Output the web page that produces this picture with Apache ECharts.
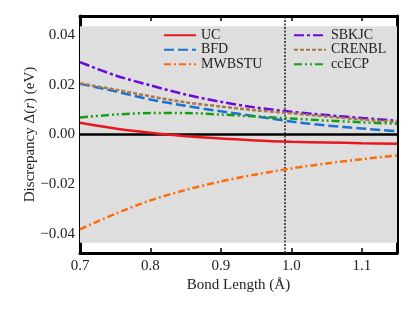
<!DOCTYPE html>
<html><head><meta charset="utf-8">
<script src="https://cdn.jsdelivr.net/npm/echarts@6/dist/echarts.min.js"></script>
<style>html,body{margin:0;padding:0;background:#fff}#c{width:415px;height:311px}</style>
</head><body><div id="c"></div>
<script>
const bondLength = [0.70, 0.75, 0.80, 0.85, 0.90, 0.95, 1.00, 1.05, 1.10, 1.15];
const UC     = [0.0047, 0.0024, 0.0007, -0.0007, -0.0016, -0.0024, -0.0029, -0.0032, -0.0035, -0.0037];
const BFD    = [0.0203, 0.0173, 0.0140, 0.0115, 0.0093, 0.0073, 0.0052, 0.0036, 0.0024, 0.0013];
const MWBSTU = [-0.0380, -0.0318, -0.0264, -0.0222, -0.0188, -0.0160, -0.0136, -0.0116, -0.0099, -0.0084];
const SBKJC  = [0.0290, 0.0237, 0.0197, 0.0160, 0.0131, 0.0108, 0.0091, 0.0078, 0.0066, 0.0055];
const CRENBL = [0.0205, 0.0180, 0.0153, 0.0129, 0.0112, 0.0097, 0.0085, 0.0072, 0.0060, 0.0050];
const ccECP  = [0.0068, 0.0080, 0.0086, 0.0086, 0.0080, 0.0072, 0.0064, 0.0056, 0.0049, 0.0043];
const xTicks = [0.7, 0.8, 0.9, 1.0, 1.1];
const yTicks = [-0.04, -0.02, 0.00, 0.02, 0.04];
const chemAcc = 0.0434;
const eqBond = 0.9875;

const font = 'Liberation Serif';
const pair = arr => bondLength.map((x, i) => [x, arr[i]]);
const mk = (name, data, color, type) => ({
  name, type: 'line', data: pair(data), smooth: 0.3, showSymbol: false, symbol: 'none',
  lineStyle: { color, width: 2.5, type }, itemStyle: { color }, z: 5
});
const tickStyle = { show: true, inside: true, length: 5, lineStyle: { color: '#000', width: 1.5 } };
const axLine = { show: true, onZero: false, lineStyle: { color: '#000', width: 3 } };
const fmtY = v => (v < 0 ? '\u2212' : '') + Math.abs(v).toFixed(2);
const legText = { fontFamily: font, fontSize: 14, color: '#222', lineHeight: 14.5 };

const chart = echarts.init(document.getElementById('c'), null, { renderer: 'canvas' });
chart.setOption({
  animation: false,
  backgroundColor: '#fff',
  grid: { left: 80, right: 18, top: 16, bottom: 58 },
  xAxis: [
    { type: 'value', min: 0.7, max: 1.15, position: 'bottom',
      axisLine: axLine, splitLine: { show: false },
      axisTick: Object.assign({}, tickStyle, { customValues: xTicks }),
      axisLabel: { customValues: xTicks, formatter: v => v.toFixed(1), fontFamily: font, fontSize: 15, color: '#222', margin: 6 },
      name: 'Bond Length (\u00C5)', nameLocation: 'middle', nameGap: 25, nameMoveOverlap: false,
      nameTextStyle: { fontFamily: font, fontSize: 15, color: '#222' } },
    { type: 'value', min: 0.7, max: 1.15, position: 'top',
      axisLine: axLine, splitLine: { show: false },
      axisTick: Object.assign({}, tickStyle, { customValues: xTicks }),
      axisLabel: { show: false } }
  ],
  yAxis: [
    { type: 'value', min: -0.0475, max: 0.0475, position: 'left',
      axisLine: axLine, splitLine: { show: false },
      axisTick: Object.assign({}, tickStyle, { customValues: yTicks }),
      axisLabel: { customValues: yTicks, formatter: fmtY, fontFamily: font, fontSize: 15, color: '#222', margin: 5 },
      name: '{a|Discrepancy \u0394(}{i|r}{a|) (eV)}', nameLocation: 'middle', nameGap: 42, nameRotate: 90,
      nameMoveOverlap: false,
      nameTextStyle: { fontFamily: font, fontSize: 15, color: '#222',
        rich: { a: { fontFamily: font, fontSize: 15, color: '#222' },
                i: { fontFamily: font, fontSize: 15, color: '#222', fontStyle: 'italic' } } } },
    { type: 'value', min: -0.0475, max: 0.0475, position: 'right',
      axisLine: axLine, splitLine: { show: false },
      axisTick: Object.assign({}, tickStyle, { customValues: yTicks }),
      axisLabel: { show: false } }
  ],
  legend: [
    { data: ['UC', 'BFD', 'MWBSTU'], orient: 'vertical', left: 158, top: 23,
      itemWidth: 32, itemHeight: 10, itemGap: 0,
      itemStyle: { opacity: 0 },
      textStyle: legText },
    { data: ['SBKJC', 'CRENBL', 'ccECP'], orient: 'vertical', left: 288, top: 23,
      itemWidth: 32, itemHeight: 10, itemGap: 0,
      itemStyle: { opacity: 0 },
      textStyle: legText }
  ],
  series: [
    { type: 'line', data: [], z: 1, silent: true,
      markArea: { silent: true, itemStyle: { color: '#dedede' },
        data: [[{ yAxis: -chemAcc }, { yAxis: chemAcc }]] },
      markLine: { silent: true, symbol: 'none', label: { show: false },
        data: [
          { yAxis: 0, lineStyle: { color: '#000', width: 2.5, type: 'solid' } },
          { xAxis: eqBond, lineStyle: { color: '#222', width: 1.5, type: [2, 1.5] } }
        ] } },
    mk('UC', UC, '#e8171f', 'solid'),
    mk('BFD', BFD, '#1a72d6', [10, 4]),
    mk('MWBSTU', MWBSTU, '#ff6a0d', [7, 3, 2, 3]),
    mk('SBKJC', SBKJC, '#6a0ad8', [10, 3, 3, 3]),
    mk('CRENBL', CRENBL, '#a8784a', [4, 2]),
    mk('ccECP', ccECP, '#14a014', [8, 3, 2, 3, 2, 3])
  ]
});
</script></body></html>
